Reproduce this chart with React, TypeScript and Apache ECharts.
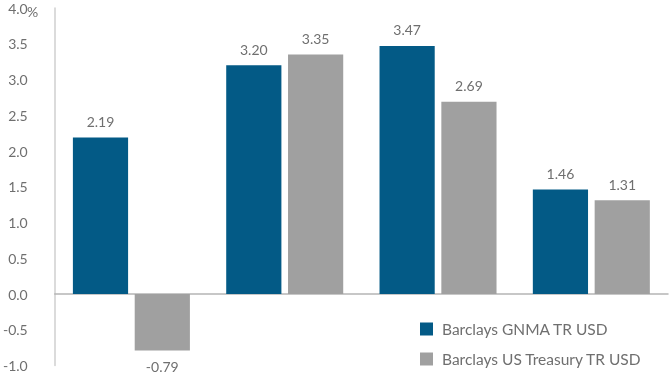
import React, { useEffect, useRef } from "react";
import * as echarts from "echarts";

const categories = ["A", "B", "C", "D"];
const gnma = [2.19, 3.2, 3.47, 1.46];
const treasury = [-0.79, 3.35, 2.69, 1.31];
const seriesNames = ["Barclays GNMA TR USD", "Barclays US Treasury TR USD"];

const FONT = "Lato, 'Open Sans', sans-serif";

export default function App() {
  const ref = useRef<HTMLDivElement>(null);
  useEffect(() => {
    if (!ref.current) return;
    const chart = echarts.init(ref.current, undefined, { renderer: "svg" });
    const labelStyle = {
      show: true,
      fontFamily: FONT,
      fontSize: 14,
      color: "#6f6f6f",
      distance: 9,
      formatter: (p: any) => Number(p.value).toFixed(2),
    };
    chart.setOption({
      animation: false,
      textStyle: { fontFamily: FONT },
      grid: { left: 54, right: 2, top: 8, bottom: 11.5 },
      legend: {
        orient: "vertical",
        left: 415,
        top: 316,
        itemWidth: 13,
        itemHeight: 13,
        itemGap: 14,
        icon: "rect",
        textStyle: { fontFamily: FONT, fontSize: 15.5, color: "#6f6f6f", padding: [0, 0, 0, 4] },
        data: seriesNames,
      },
      xAxis: {
        type: "category",
        data: categories,
        axisLine: { onZero: true, lineStyle: { color: "#b5b5b5", width: 1.5 } },
        axisTick: { show: false },
        axisLabel: { show: false },
      },
      yAxis: {
        type: "value",
        min: -1,
        max: 4,
        interval: 0.5,
        splitLine: { show: false },
        axisLine: { show: true, lineStyle: { color: "#cfcfcf", width: 1.5 } },
        axisTick: { show: false },
        axisLabel: {
          margin: 27,
          fontFamily: FONT,
          fontSize: 14,
          color: "#6f6f6f",
          formatter: (v: number) => v.toFixed(1),
        },
      },
      graphic: [
        {
          type: "text",
          left: 27,
          top: 4,
          style: { text: "%", fontFamily: FONT, fontSize: 14, fill: "#6f6f6f" },
        },
      ],
      series: [
        {
          name: seriesNames[0],
          type: "bar",
          data: gnma,
          barWidth: "36%",
          barGap: "12%",
          itemStyle: { color: "#035a86" },
          label: { ...labelStyle, position: "top" },
        },
        {
          name: seriesNames[1],
          type: "bar",
          data: treasury.map((v) => ({
            value: v,
            label: { position: v < 0 ? "bottom" : "top" },
          })),
          barWidth: "36%",
          itemStyle: { color: "#a0a0a0" },
          label: { ...labelStyle, position: "top" },
        },
      ],
    });
    return () => chart.dispose();
  }, []);
  return (
    <div
      ref={ref}
      style={{ position: "fixed", left: 0, top: 0, width: 670, height: 377 }}
    />
  );
}
